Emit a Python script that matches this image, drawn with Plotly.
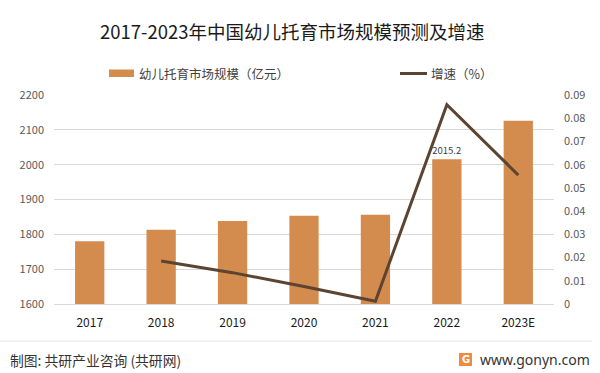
import plotly.graph_objects as go

years = ["2017", "2018", "2019", "2020", "2021", "2022", "2023E"]
market_size = [1780, 1813, 1838, 1853, 1856, 2015.2, 2126]
growth_years = ["2018", "2019", "2020", "2021", "2022", "2023E"]
growth = [0.0185, 0.0135, 0.0075, 0.0012, 0.0858, 0.0555]
left_ticks = [1600, 1700, 1800, 1900, 2000, 2100, 2200]
right_ticks = [0, 0.01, 0.02, 0.03, 0.04, 0.05, 0.06, 0.07, 0.08, 0.09]
right_labels = ["0", "0.01", "0.02", "0.03", "0.04", "0.05", "0.06", "0.07", "0.08", "0.09"]
bar_labels = ["", "", "", "", "", "2015.2", ""]

BAR = "#D38B4E"
LINE = "#5B4431"
FONT = "Noto Sans CJK SC"

fig = go.Figure()
fig.add_trace(go.Bar(
    x=years, y=market_size, marker=dict(color=BAR, line=dict(width=0)),
    text=bar_labels, textposition="outside", cliponaxis=False,
    textfont=dict(family=FONT, size=12, color="#404040"),
    name="幼儿托育市场规模（亿元）", showlegend=False,
))
fig.add_trace(go.Scatter(
    x=growth_years, y=growth, yaxis="y2", mode="lines",
    line=dict(color=LINE, width=3), name="增速（%）", showlegend=False,
))

W, H = 600, 373
L, R, T, B = 54, 46, 95, 69
PW, PH = W - L - R, H - T - B

fig.update_layout(
    width=W, height=H,
    margin=dict(l=L, r=R, t=T, b=B),
    paper_bgcolor="white", plot_bgcolor="white",
    bargap=0.59,
    font=dict(family=FONT, size=11, color="#595959"),
    xaxis=dict(type="category", showgrid=False, showline=True, linecolor="#D9D9D9",
               linewidth=1, ticks="", ticklabelstandoff=8,
               tickfont=dict(family=FONT, size=12, color="#1a1a1a")),
    yaxis=dict(range=[1600, 2200], tickvals=left_ticks, showgrid=True,
               gridcolor="#D9D9D9", gridwidth=1, zeroline=False, showline=False,
               ticks="", ticklabelstandoff=9,
               tickfont=dict(family=FONT, size=11, color="#595959")),
    yaxis2=dict(range=[0, 0.09], overlaying="y", side="right", tickvals=right_ticks,
                ticktext=right_labels, showgrid=False, zeroline=False, showline=False,
                ticks="", ticklabelstandoff=9,
                tickfont=dict(family=FONT, size=11, color="#595959")),
    showlegend=False,
)

def px_x(x):
    return (x - L) / PW

def px_y(y):
    return (H - B - y) / PH

shapes = []
annotations = []

# Title
annotations.append(dict(xref="paper", yref="paper", x=px_x(292), y=px_y(31),
                        text="2017-2023年中国幼儿托育市场规模预测及增速", showarrow=False,
                        xanchor="center", yanchor="middle",
                        font=dict(family=FONT, size=18.5, color="#1a1a1a")))
# Custom legend
shapes.append(dict(type="rect", xref="paper", yref="paper",
                   x0=px_x(109), x1=px_x(134), y0=px_y(77), y1=px_y(69.5),
                   fillcolor=BAR, line=dict(width=0)))
annotations.append(dict(xref="paper", yref="paper", x=px_x(137), y=px_y(73.5),
                        text="幼儿托育市场规模（亿元）", showarrow=False, xanchor="left",
                        yanchor="middle", font=dict(family=FONT, size=12.5, color="#404040")))
shapes.append(dict(type="line", xref="paper", yref="paper",
                   x0=px_x(400), x1=px_x(427), y0=px_y(73.5), y1=px_y(73.5),
                   line=dict(color=LINE, width=3)))
annotations.append(dict(xref="paper", yref="paper", x=px_x(429), y=px_y(73.5),
                        text="增速（%）", showarrow=False, xanchor="left",
                        yanchor="middle", font=dict(family=FONT, size=12.5, color="#404040")))
# Footer
shapes.append(dict(type="line", xref="paper", yref="paper",
                   x0=px_x(0), x1=px_x(592), y0=px_y(341), y1=px_y(341),
                   line=dict(color="#E6E6E6", width=1)))
annotations.append(dict(xref="paper", yref="paper", x=px_x(8), y=px_y(359.5),
                        text="制图: 共研产业咨询 (共研网)", showarrow=False, xanchor="left",
                        yanchor="middle", font=dict(family=FONT, size=13.8, color="#333333")))
shapes.append(dict(type="rect", xref="paper", yref="paper",
                   x0=px_x(459), x1=px_x(472), y0=px_y(366), y1=px_y(353),
                   fillcolor="#F08A3C", line=dict(width=0)))
annotations.append(dict(xref="paper", yref="paper", x=px_x(465.5), y=px_y(359.5),
                        text="<b>G</b>", showarrow=False, xanchor="center",
                        yanchor="middle", font=dict(family="DejaVu Sans", size=10, color="white")))
annotations.append(dict(xref="paper", yref="paper", x=px_x(592), y=px_y(359.5),
                        text="www.gonyn.com", showarrow=False, xanchor="right",
                        yanchor="middle", font=dict(family="Noto Sans", size=14, color="#333333")))

fig.update_layout(shapes=shapes, annotations=annotations)
fig.write_html("out.html", config={"displayModeBar": False},
               post_script="document.body.style.margin='0px';document.body.style.overflow='hidden';")
